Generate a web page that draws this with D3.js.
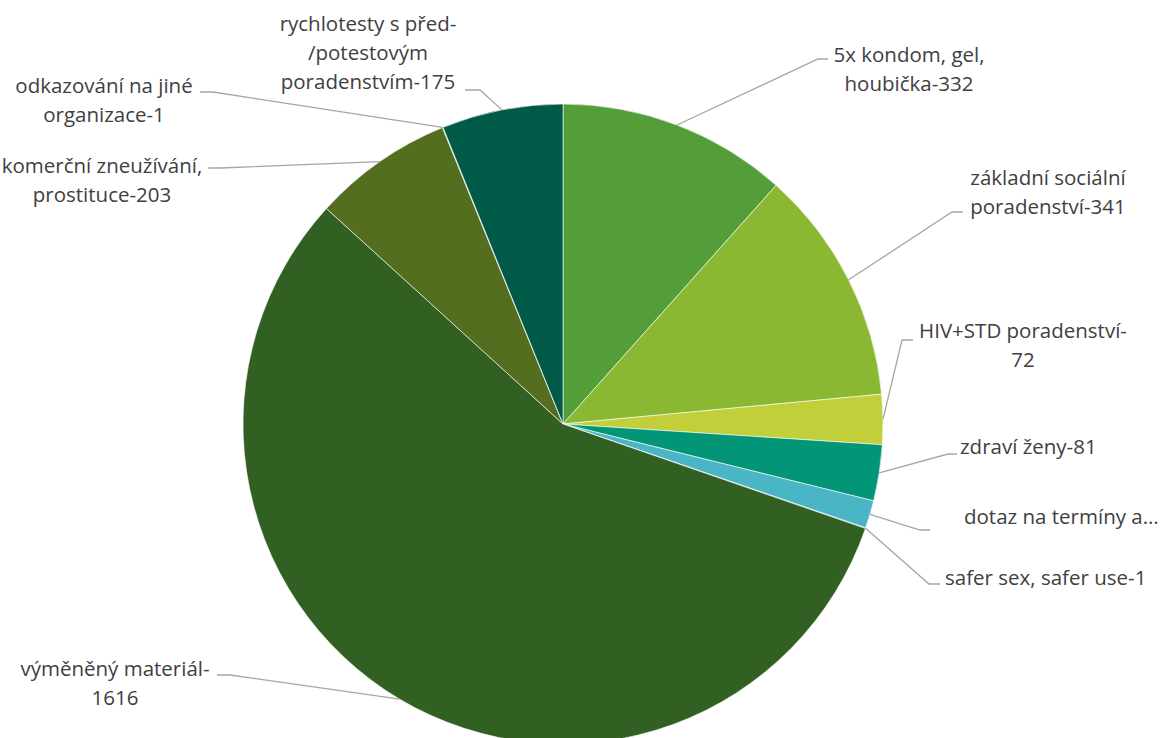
<!DOCTYPE html>
<html>
<head>
<meta charset="utf-8">
<script src="https://cdn.jsdelivr.net/npm/d3@7"></script>
<style>
  body { margin: 0; background: #fff; }
  svg { display: block; }
  .lbl { font-family: "Open Sans", Lato, sans-serif; font-size: 20.5px; fill: #404040; }
</style>
</head>
<body>
<svg id="chart" width="1165" height="738"></svg>
<script>
// slice names, clockwise from 12 o'clock
const categories = [
    "5x kondom, gel, houbička",
    "základní sociální poradenství",
    "HIV+STD poradenství",
    "zdraví ženy",
    "dotaz na termíny a…",
    "safer sex, safer use",
    "výměněný materiál",
    "komerční zneužívání, prostituce",
    "odkazování na jiné organizace",
    "rychlotesty s před-/potestovým poradenstvím"
];
// dotaz value is hidden in the source label
const values = [332, 341, 72, 81, 40, 1, 1616, 203, 1, 175];

const colors = ["#549E39", "#8AB833", "#C0CF3A", "#029676", "#4AB5C4",
                "#0989B1", "#325F22", "#536E1F", "#737C23", "#015A47"];

// label text as wrapped in the original
const labelLines = [
    ["5x kondom, gel,", "houbička-332"],
    ["základní sociální", "poradenství-341"],
    ["HIV+STD poradenství-", "72"],
    ["zdraví ženy-81"],
    ["dotaz na termíny a…"],
    ["safer sex, safer use-1"],
    ["výměněný materiál-", "1616"],
    ["komerční zneužívání,", "prostituce-203"],
    ["odkazování na jiné", "organizace-1"],
    ["rychlotesty s před-", "/potestovým", "poradenstvím-175"]
];

// label placement (text anchor + leader elbow), like excel put them
const labelPos = [
    {x: 909, y: 62, anchor: "middle", elbow: [818, 59], end: [828, 59]},
    {x: 1048, y: 185, anchor: "middle", elbow: [952, 212], end: [963, 212]},
    {x: 1023, y: 338, anchor: "middle", elbow: [902, 340], end: [913, 340]},
    {x: 960, y: 454, anchor: "start", elbow: [948, 454], end: [957, 454]},
    {x: 964, y: 524, anchor: "start", elbow: [920, 530], end: [930, 530]},
    {x: 945, y: 585, anchor: "start", elbow: [929, 584], end: [940, 584]},
    {x: 115, y: 676, anchor: "middle", elbow: [230, 675], end: [217, 675]},
    {x: 102, y: 173, anchor: "middle", elbow: [220, 168], end: [208, 168]},
    {x: 104, y: 93, anchor: "middle", elbow: [213, 92], end: [200, 92]},
    {x: 368, y: 31, anchor: "middle", elbow: [480, 90], end: [465, 90]}
];

const lineHeight = 29;

const svg = d3.select("#chart");
const cx = 563, cy = 424, radius = 320;

const g = svg.append("g").attr("transform", `translate(${cx},${cy})`);

const pie = d3.pie().sort(null).value(d => d);
const arcs = pie(values);

const arc = d3.arc().innerRadius(0).outerRadius(radius);

g.selectAll("path.slice")
    .data(arcs)
    .join("path")
    .attr("class", "slice")
    .attr("d", arc)
    .attr("fill", (d, i) => colors[i])
    .attr("stroke", "#fff")
    .attr("stroke-width", 0.6);

// leader lines: from the slice edge at mid angle to the elbow, then short horizontal
const line = d3.line();
svg.selectAll("path.leader")
    .data(arcs)
    .join("path")
    .attr("class", "leader")
    .attr("fill", "none")
    .attr("stroke", "#A6A6A6")
    .attr("stroke-width", 1.3)
    .attr("d", (d, i) => {
        const a = (d.startAngle + d.endAngle) / 2;
        const p0 = [cx + radius * Math.sin(a), cy - radius * Math.cos(a)];
        const lp = labelPos[i];
        return line([p0, lp.elbow, lp.end]);
    });

const labels = svg.selectAll("text.lbl")
    .data(labelLines)
    .join("text")
    .attr("class", "lbl")
    .attr("text-anchor", (d, i) => labelPos[i].anchor)
    .attr("x", (d, i) => labelPos[i].x)
    .attr("y", (d, i) => labelPos[i].y);

labels.each(function (lines, i) {
    const t = d3.select(this);
    lines.forEach((s, k) => {
        t.append("tspan")
            .attr("x", labelPos[i].x)
            .attr("y", labelPos[i].y + k * lineHeight)
            .text(s);
    });
});
</script>
</body>
</html>
